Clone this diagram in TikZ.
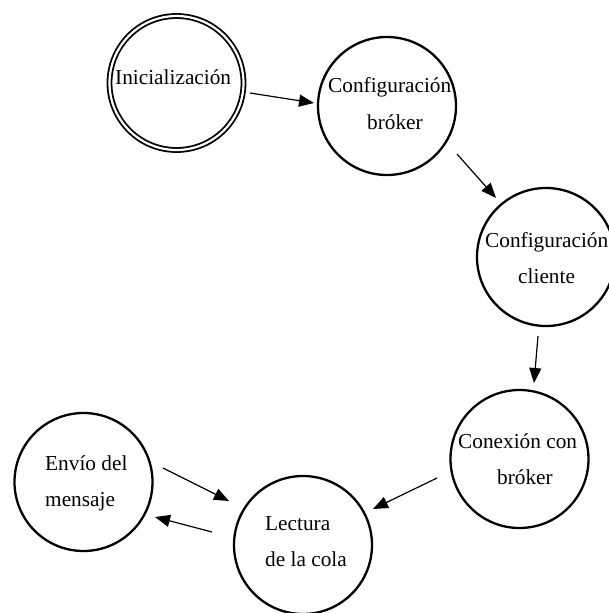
\documentclass[tikz,border=0pt]{standalone}
\usepackage{fontspec}
\setmainfont{Liberation Serif}
\usetikzlibrary{arrows.meta}
\tikzset{
  state/.style={circle, draw, line width=2.3pt, minimum size=138pt, inner sep=0pt},
  initstate/.style={circle, draw, line width=1.8pt, double, double distance=2.2pt, minimum size=134pt, inner sep=0pt},
  lbl/.style={anchor=base west, inner sep=0pt, font=\fontsize{21.3}{25}\selectfont},
  conn/.style={line width=1.2pt, -{Triangle[length=15pt,width=12pt]}}
}
\begin{document}
\begin{tikzpicture}[x=1pt,y=-1pt]
\useasboundingbox (0,0) rectangle (608,613);
% states
\node[initstate] (ini) at (176.5,83) {};
\node[state] (cb) at (387,106) {};
\node[state] (cc) at (546,257) {};
\node[state] (con) at (519.5,459) {};
\node[state] (lec) at (303,545) {};
\node[state] (env) at (83.5,482) {};
% labels
\node[lbl] (t1) at (115,84) {Inicialización};
\node[lbl] (t2a) at (328,92) {Configuración};
\node[lbl] (t2b) at (367,129) {bróker};
\node[lbl] (t3a) at (485,247) {Configuración};
\node[lbl] (t3b) at (518,283) {cliente};
\node[lbl] (t4a) at (458,448) {Conexión con};
\node[lbl] (t4b) at (497,484) {bróker};
\node[lbl] (t5a) at (265,530) {Lectura};
\node[lbl] (t5b) at (265,566) {de la cola};
\node[lbl] (t6a) at (45,470) {Envío del};
\node[lbl] (t6b) at (45,506) {mensaje};
% connector ends
\coordinate (a1s) at (250,93);  \coordinate (a1e) at (314,103);
\coordinate (a2s) at (457,154); \coordinate (a2e) at (496,198);
\coordinate (a3s) at (538,336); \coordinate (a3e) at (534,383);
\coordinate (a4s) at (437,478); \coordinate (a4e) at (373,509);
\coordinate (a5s) at (163,468); \coordinate (a5e) at (229,501);
\coordinate (a6s) at (212,532); \coordinate (a6e) at (155,517);
\draw[conn] (a1s) -- (a1e);
\draw[conn] (a2s) -- (a2e);
\draw[conn] (a3s) -- (a3e);
\draw[conn] (a4s) -- (a4e);
\draw[conn] (a5s) -- (a5e);
\draw[conn] (a6s) -- (a6e);
\end{tikzpicture}
\end{document}
